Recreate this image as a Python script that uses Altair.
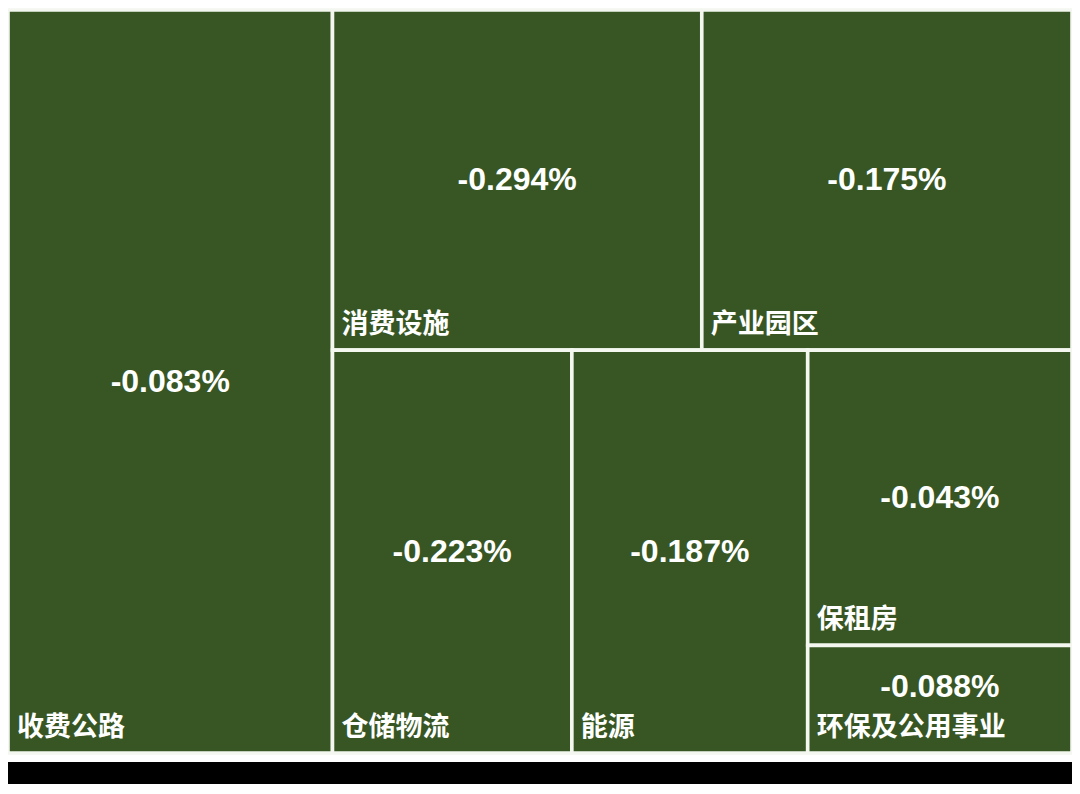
import altair as alt
import pandas as pd

# ---- data ----
categories = ["收费公路", "消费设施", "产业园区", "仓储物流", "能源", "保租房", "环保及公用事业"]
weights = [30.50, 15.89, 15.93, 12.20, 12.02, 9.87, 3.60]          # tile size shares (%)
changes = [-0.083, -0.294, -0.175, -0.223, -0.187, -0.043, -0.088]  # shown values (%)

# treemap arrangement (h = side by side, v = stacked), leaves are category indices
arrangement = ("h", [0, ("v", [("h", [1, 2]), ("h", [3, 4, ("v", [5, 6])])])])

W, H = 1064, 743
NAME_BAND = 66  # px kept free above the bottom edge for the category name


def total(node):
    if isinstance(node, int):
        return weights[node]
    return sum(total(k) for k in node[1])


def place(node, x0, y0, x1, y1, out):
    if isinstance(node, int):
        out[node] = (x0, y0, x1, y1)
        return
    direction, kids = node
    s = total(node)
    pos = x0 if direction == "h" else y0
    for k in kids:
        frac = total(k) / s
        if direction == "h":
            w = (x1 - x0) * frac
            place(k, pos, y0, pos + w, y1, out)
            pos += w
        else:
            h = (y1 - y0) * frac
            place(k, x0, pos, x1, pos + h, out)
            pos += h


rects = {}
place(arrangement, 0.0, 0.0, 1.0, 1.0, rects)

rows = []
for i, name in enumerate(categories):
    x0, y0, x1, y1 = rects[i]
    rows.append({
        "cat": name,
        "x0": x0, "x1": x1, "y0": y0, "y1": y1,
        "cx": (x0 + x1) / 2,
        "cy": min((y0 + y1) / 2, y1 - NAME_BAND / H),
        "label": f"{changes[i]:.3f}%",
    })
df = pd.DataFrame(rows)

xs = alt.Scale(domain=[0, 1], nice=False, zero=False)
ys = alt.Scale(domain=[0, 1], nice=False, zero=False, reverse=True)

backdrop = alt.Chart(pd.DataFrame({"a": [0]})).mark_rect(color="white").encode(
    x=alt.value(0), x2=alt.value(W), y=alt.value(-2), y2=alt.value(752)
)

tiles = alt.Chart(df).mark_rect(fill="#375623", stroke="#f4f7f0", strokeWidth=3.6).encode(
    x=alt.X("x0:Q", scale=xs, axis=None),
    x2="x1:Q",
    y=alt.Y("y0:Q", scale=ys, axis=None),
    y2="y1:Q",
)

values = alt.Chart(df).mark_text(
    color="white", font="Liberation Sans", fontWeight="bold", fontSize=32,
    align="center", baseline="middle",
).encode(
    x=alt.X("cx:Q", scale=xs, axis=None),
    y=alt.Y("cy:Q", scale=ys, axis=None),
    text="label:N",
)

names = alt.Chart(df).mark_text(
    color="white", font="Noto Sans CJK SC", fontWeight="bold", fontSize=27,
    align="left", baseline="middle", dx=9, dy=-25,
).encode(
    x=alt.X("x0:Q", scale=xs, axis=None),
    y=alt.Y("y1:Q", scale=ys, axis=None),
    text="cat:N",
)

chart = alt.layer(backdrop, tiles, values, names).properties(
    width=W, height=H,
    autosize=alt.AutoSizeParams(type="none"),
    padding={"left": 0, "top": 2, "right": 0, "bottom": 31},
    background="black",
).configure_view(stroke=None)

chart.save("out.html", embed_options={"renderer": "svg", "actions": False})
